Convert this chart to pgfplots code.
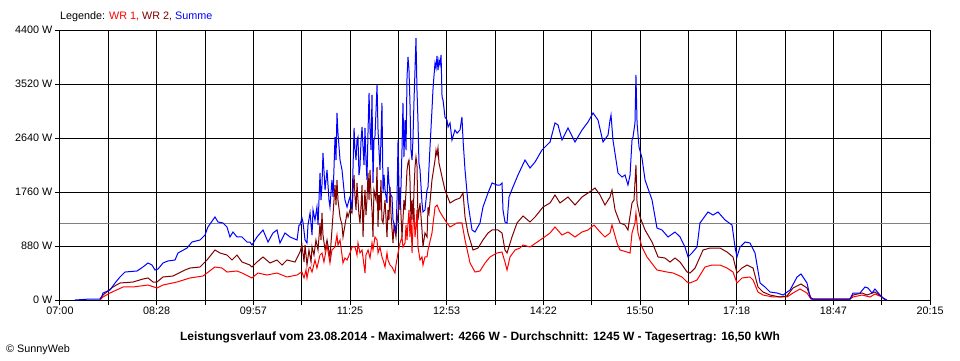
\documentclass[border=0pt]{standalone}
\usepackage{pgfplots}
\pgfplotsset{compat=1.18}
\usepackage{fontspec}
\setmainfont{Liberation Sans}
\definecolor{wrone}{RGB}{255,0,0}
\definecolor{wrtwo}{RGB}{128,0,0}
\definecolor{summe}{RGB}{0,0,255}
\definecolor{avg}{RGB}{128,128,128}
\newcommand\cf{\fontsize{10.8}{12}\selectfont}
\begin{document}
\begin{tikzpicture}[x=1pt,y=1pt]
\path[use as bounding box] (-60,-60) rectangle (900,300);
\begin{axis}[
  scale only axis, width=870pt, height=270pt,
  xmin=0, xmax=795, ymin=0, ymax=4400,
  axis line style={black, line width=1pt},
  xtick={0,44.1667,88.3333,132.5,176.6667,220.8333,265,309.1667,353.3333,397.5,441.6667,485.8333,530,574.1667,618.3333,662.5,706.6667,750.8333,795},
  xticklabels={07:00,{},08:28,{},09:57,{},11:25,{},12:53,{},14:22,{},15:50,{},17:18,{},18:47,{},20:15},
  ytick={0,880,1760,2640,3520,4400},
  yticklabels={0 W,880 W,1760 W,2640 W,3520 W,4400 W},
  xmajorgrids, ymajorgrids,
  grid style={black, line width=1pt},
  tick align=outside, major tick length=5pt,
  tick style={black, line width=1pt},
  xtick pos=bottom, ytick pos=left,
  every tick label/.append style={font=\cf, text=black},
  xticklabel style={inner sep=2pt},
  yticklabel style={inner sep=2.5pt},
]
\addplot[avg, line width=1pt, forget plot] coordinates {(0,1245) (795,1245)};
% WR 1
\addplot[wrone, line width=1pt] table {
t W
36.6 0
39.3 49
45.7 114
57.6 212
66.7 212
80.4 244
88.6 196
94.1 244
106.9 293
118.8 359
130.7 391
141.6 538
148.0 521
152.6 456
161.7 473
166.3 440
173.6 375
175.4 359
180.9 440
189.2 407
198.3 440
207.4 375
216.6 407
219.3 440
221.1 456
223.0 359
224.8 489
225.7 359
227.5 521
228.5 538
230.3 456
233.0 652
234.8 521
237.6 733
239.4 766
241.2 619
244.0 896
246.7 603
248.5 815
251.3 864
253.1 1059
254.0 896
255.9 978
258.6 603
260.4 684
262.3 652
265.0 766
266.8 864
269.6 864
271.4 733
272.3 929
274.1 766
276.0 815
278.7 440
279.6 733
281.5 815
283.3 684
285.1 929
286.0 815
287.8 1027
289.7 978
290.6 766
292.4 864
294.2 701
295.2 652
297.0 538
298.8 766
299.7 652
301.6 570
303.4 538
306.1 440
307.0 570
308.9 766
310.7 929
312.5 1027
313.4 864
315.3 929
316.2 1222
317.1 978
318.0 1255
318.9 1467
319.8 1027
320.7 1385
321.7 766
322.6 1222
323.5 1499
324.4 1027
325.3 1190
326.2 1467
327.1 864
329.0 652
330.8 701
331.7 570
333.5 701
335.4 701
336.3 815
339.9 1092
342.7 1515
344.5 1548
347.2 1434
350.0 1353
353.6 1255
356.4 1190
362.8 1255
367.3 1255
370.1 978
374.7 603
379.2 456
383.8 473
388.4 603
392.9 701
399.3 766
403.9 782
406.6 619
408.5 489
411.2 701
415.8 815
420.3 847
423.1 896
429.5 864
441.4 1010
447.8 1092
452.3 1190
458.7 1059
464.2 1108
470.6 1027
477.0 1108
482.5 1141
488.0 1222
493.5 1108
498.0 1027
502.6 1092
504.4 1222
509.0 929
511.7 815
518.1 782
520.9 766
522.7 1092
525.4 1255
526.3 1418
528.2 1092
531.8 864
536.4 701
545.5 489
554.7 456
560.2 440
568.4 375
573.0 293
575.7 277
582.1 326
589.4 538
595.8 570
603.1 570
609.5 521
615.0 456
618.6 277
623.2 359
630.5 375
633.3 326
637.8 130
642.4 81
651.5 49
664.3 49
669.8 114
676.2 179
682.6 114
686.2 16
721.9 16
724.6 49
732.9 81
740.2 49
744.7 98
751.1 49
753.9 0
};
% WR 2
\addplot[wrtwo, line width=1pt] table {
t W
36.6 16
39.3 81
48.4 212
54.8 277
66.7 293
75.8 342
80.4 359
85.0 293
88.6 293
94.1 375
103.3 391
114.2 489
118.8 521
127.9 538
134.3 652
141.6 815
146.2 766
152.6 733
157.2 652
161.7 733
166.3 619
173.6 570
175.4 538
180.0 619
185.5 701
191.9 603
198.3 652
202.9 570
207.4 652
214.7 619
219.3 782
221.1 896
223.0 619
223.9 896
225.7 570
227.5 815
229.4 619
230.3 864
232.1 733
233.9 978
235.8 815
237.6 1255
238.5 978
239.4 1418
240.3 1059
242.2 815
244.0 978
246.7 701
248.5 1141
250.4 1630
251.3 1874
252.2 1548
253.1 1956
254.0 1630
255.9 1353
257.7 1222
258.6 1027
260.4 1222
262.3 1418
263.2 1353
265.0 1467
266.8 1418
267.7 1744
268.7 2037
269.6 1679
270.5 1467
271.4 1907
272.3 1630
273.2 1385
274.1 1255
275.1 1548
276.0 1874
276.9 1027
277.8 1467
278.7 1793
279.6 1385
280.5 1630
281.5 2070
282.4 1630
283.3 2119
284.2 1711
285.1 1467
286.0 1027
286.9 1793
288.8 1630
289.7 2167
290.6 1190
291.5 1711
292.4 1467
293.3 1956
294.2 1304
295.2 1255
297.0 1630
298.8 1027
299.7 1467
300.6 1304
301.6 1841
302.5 1385
304.3 929
305.2 1222
307.0 1027
307.9 1255
308.9 1418
309.8 1630
310.7 1841
311.6 1385
312.5 1027
313.4 1304
314.3 1630
315.3 1467
316.2 1793
317.1 2119
318.0 2233
318.9 2281
319.8 1956
320.7 1304
321.7 1630
322.6 1304
323.5 1793
324.4 2167
325.3 2330
326.2 2200
327.1 1304
329.0 1581
330.8 1141
331.7 864
333.5 1092
335.4 1027
336.3 1515
337.2 1418
339.9 1956
342.7 2281
343.6 2444
344.5 2363
345.4 2477
346.3 2233
349.1 2004
351.8 1793
356.4 1581
360.9 1630
365.5 1662
368.3 1744
370.1 1353
372.8 1092
377.4 815
382.0 847
386.5 978
391.1 1092
394.8 1141
400.2 1141
403.9 1092
406.6 815
408.5 766
413.0 1027
417.6 1255
423.1 1369
429.5 1271
434.1 1353
441.4 1515
447.8 1581
452.3 1711
456.9 1581
464.2 1679
470.6 1548
477.0 1679
482.5 1744
488.9 1825
493.5 1711
498.0 1548
502.6 1679
504.4 1793
507.2 1467
511.7 1255
516.3 1222
519.0 1141
519.9 1255
522.7 1581
524.5 1630
526.3 2200
527.3 1581
530.0 1353
534.6 1141
541.0 945
546.5 701
552.8 684
557.4 619
562.0 684
566.6 619
573.0 456
575.7 440
580.3 521
587.6 815
594.0 847
603.1 847
609.5 782
615.0 701
618.6 440
623.2 521
627.8 570
633.3 521
637.8 212
642.4 130
648.8 81
657.9 49
664.3 65
669.8 196
677.1 261
682.6 196
686.2 33
688.1 16
721.9 16
724.6 81
732.9 114
737.4 81
744.7 130
751.1 49
753.9 0
};
% Summe
\addplot[summe, line width=1pt] table {
t W
13.7 0
27.4 16
36.6 16
38.4 65
39.3 114
45.7 163
50.3 277
54.8 375
59.4 456
70.4 473
75.8 538
80.4 603
84.1 570
86.8 489
89.6 505
94.1 603
98.7 636
105.1 652
107.8 766
116.1 847
120.6 945
127.9 978
132.5 1059
135.2 1190
141.6 1353
144.4 1271
148.9 1255
152.6 1190
155.3 1027
158.1 1108
161.7 1027
166.3 1027
170.9 945
173.6 945
175.4 896
180.0 1027
185.5 1141
190.1 945
194.6 1092
198.3 1141
201.0 929
205.6 1092
210.2 1027
216.6 978
218.4 1222
219.3 1222
221.1 1336
222.0 1271
223.9 978
225.7 929
226.6 1222
228.5 1418
230.3 1059
231.2 1467
233.0 1304
234.8 1515
235.8 1222
237.6 2070
238.5 1630
239.4 1874
240.3 2396
242.2 1793
244.0 2119
245.8 1630
246.7 1515
248.5 1956
249.5 1679
251.3 2656
252.2 2281
253.1 3048
254.0 2721
255.9 2281
257.7 2119
258.6 1956
260.4 1630
262.3 1515
264.1 1630
265.0 1679
266.8 1467
267.7 2119
268.7 2803
269.6 2444
270.5 2281
271.4 2607
272.3 2656
273.2 2037
274.1 2167
275.1 2607
276.0 2819
276.9 2493
277.8 2200
278.7 2803
279.6 2281
280.5 1956
281.5 2770
282.4 3374
283.3 2770
284.2 2444
285.1 3341
286.0 1907
286.9 2607
287.8 2656
288.8 3096
289.7 3504
290.6 2770
291.5 2444
292.4 2119
293.3 2607
294.2 3211
295.2 1744
296.1 2037
297.0 1793
298.8 1581
299.7 2167
300.6 1907
301.6 1744
303.4 1679
304.3 1304
306.1 1190
307.0 1092
307.9 1581
308.9 2607
309.8 1793
310.7 1467
311.6 1841
312.5 2444
313.4 3211
314.3 2330
315.3 2933
316.2 2444
317.1 3634
318.0 3960
318.9 3748
319.8 3211
320.7 2444
321.7 2281
322.6 2656
323.5 3259
324.4 3748
325.3 4266
326.2 3422
327.1 2933
328.0 2233
329.0 2119
330.8 1581
331.7 1434
333.5 1467
335.4 1793
336.3 1841
338.1 2493
339.9 3096
340.8 3422
341.8 3667
342.7 3862
343.6 3781
344.5 3976
345.4 3748
346.3 3911
347.2 3830
348.2 3993
349.1 3308
350.0 3259
351.8 2982
353.6 2933
354.6 2819
356.4 2885
358.2 2607
360.9 2770
362.8 2721
365.5 2770
367.3 2982
368.3 2607
370.1 2119
372.8 1581
376.5 1141
379.2 1108
383.8 1255
386.5 1515
391.1 1744
394.8 1907
399.3 1874
402.1 1874
403.9 1907
404.8 1467
406.6 1271
408.5 1255
410.3 1679
413.9 1841
418.5 2037
424.9 2281
429.5 2151
434.1 2249
440.4 2444
447.8 2575
452.3 2885
455.1 2852
458.7 2607
464.2 2803
470.6 2575
477.0 2770
482.5 2901
487.1 3048
491.6 2933
496.2 2575
500.8 2689
502.6 2933
503.5 3015
505.3 2607
509.9 2070
513.6 2004
516.3 2037
519.0 1874
520.9 2037
522.7 2607
523.6 2656
524.5 2770
525.4 2885
526.3 3667
527.3 2885
529.1 2493
531.8 2314
534.6 1956
541.0 1630
545.5 1173
550.1 1141
555.6 1027
562.0 1108
566.6 1027
571.1 864
573.9 701
577.5 766
582.1 864
584.8 1255
592.1 1434
596.7 1385
601.3 1434
607.7 1304
614.1 1222
616.8 864
618.6 701
621.4 864
626.0 945
630.5 929
635.1 766
639.7 277
644.2 212
648.8 130
655.2 114
660.7 81
667.1 163
673.5 375
677.1 424
682.6 277
685.4 49
687.2 16
721.9 16
724.6 114
731.0 114
735.6 212
738.3 196
742.0 114
744.7 179
749.3 81
752.0 33
755.7 0
};
\end{axis}
\node[anchor=west, inner sep=0pt, font=\cf] at (0,283) {Legende: \textcolor{wrone}{WR 1,} \textcolor{wrtwo}{WR 2,} \textcolor{summe}{Summe}};
\node[anchor=base, inner sep=0pt, font=\fontsize{12}{13}\selectfont\bfseries] at (420,-40) {Leistungsverlauf vom 23.08.2014 - Maximalwert: 4266 W - Durchschnitt: 1245 W - Tagesertrag: 16,50 kWh};
\node[anchor=base west, inner sep=0pt, font=\cf] at (-54,-52) {\textcopyright{} SunnyWeb};
\end{tikzpicture}
\end{document}
